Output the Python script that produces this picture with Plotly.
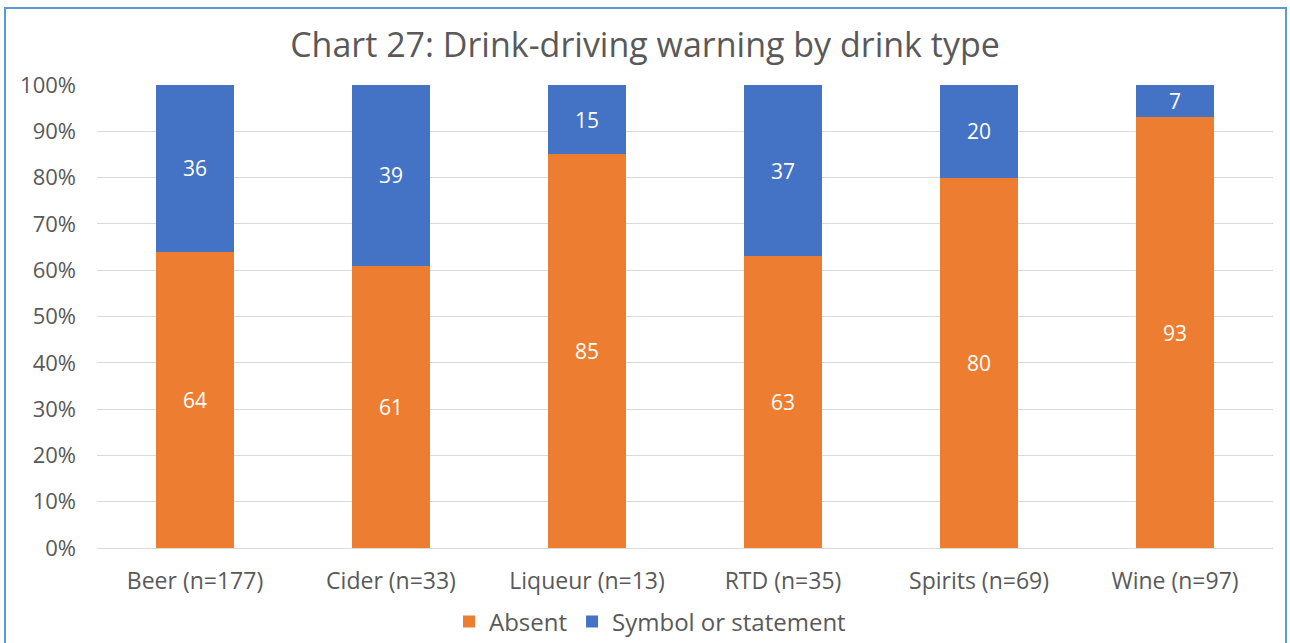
import plotly.graph_objects as go

categories = ["Beer (n=177)", "Cider (n=33)", "Liqueur (n=13)", "RTD (n=35)", "Spirits (n=69)", "Wine (n=97)"]
absent = [64, 61, 85, 63, 80, 93]
symbol = [36, 39, 15, 37, 20, 7]
y_ticks = list(range(0, 101, 10))
y_tick_text = [f"{v}%" for v in y_ticks]

FONT = "Open Sans"
GREY = "#595959"

fig = go.Figure()
fig.add_trace(go.Bar(x=categories, y=absent, name="Absent", marker_color="#ED7D31",
                     marker_line_width=0,
                     text=absent, textposition="inside", insidetextanchor="middle", textangle=0,
                     textfont=dict(color="white", size=21, family=FONT)))
fig.add_trace(go.Bar(x=categories, y=symbol, name="Symbol or statement", marker_color="#4472C4",
                     marker_line_width=0,
                     text=symbol, textposition="inside", insidetextanchor="middle", textangle=0,
                     textfont=dict(color="white", size=21, family=FONT)))

L, R, T, B = 97, 1273, 85, 548
W, H = R - L, B - T

fig.update_layout(
    width=1290, height=643,
    barmode="stack", bargap=0.6,
    margin=dict(l=L, r=1290 - R, t=T, b=643 - B, autoexpand=False),
    paper_bgcolor="white", plot_bgcolor="white",
    font=dict(family=FONT, color=GREY, size=22),
    title=dict(text="Chart 27: Drink-driving warning by drink type",
               x=645 / 1290, xanchor="center", y=1 - 45 / 643, yanchor="middle",
               yref="container", font=dict(size=34, color=GREY, family=FONT)),
    yaxis=dict(range=[0, 100], tickmode="array", tickvals=y_ticks, ticktext=y_tick_text,
               showgrid=True, gridcolor="#D9D9D9", gridwidth=1, zeroline=False, showline=False,
               tickfont=dict(size=22, color=GREY), ticks="", ticklen=0, automargin=False,
               ticklabelstandoff=20),
    xaxis=dict(showline=True, linecolor="#D9D9D9", linewidth=1, ticks="",
               tickfont=dict(size=23, color=GREY), automargin=False, ticklabelstandoff=12),
    legend=dict(orientation="h", x=(650 - L) / W, xanchor="center",
                y=(B - 622) / H, yanchor="middle", font=dict(size=24, color=GREY),
                traceorder="normal"),
    uniformtext=dict(mode="show", minsize=21),
)

fig.add_shape(type="rect", xref="paper", yref="paper",
              x0=(5 - L) / W, x1=(1286 - L) / W, y0=(B - 700) / H, y1=(B - 8) / H,
              line=dict(color="#5B9BD5", width=2), fillcolor="rgba(0,0,0,0)", layer="below")

fig.write_html("out.html", config={"displayModeBar": False},
               post_script="document.body.style.margin='0';document.body.style.overflow='hidden';")
